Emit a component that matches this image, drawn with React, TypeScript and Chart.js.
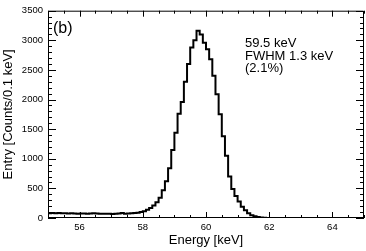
import { useEffect, useRef } from 'react';
import { Chart, registerables } from 'chart.js';

Chart.register(...registerables);

const BIN_START = 55;
const BIN_WIDTH = 0.1;
const X_MIN = 55;
const X_MAX = 65;
const Y_MIN = 0;
const Y_MAX = 3500;

// counts per 0.1 keV bin, 55.0 .. 65.0 keV
const counts = [
  85, 82, 84, 80, 83, 79, 81, 78, 80, 76,
  70, 74, 77, 72, 75, 79, 76, 71, 73, 70,
  72, 69, 71, 74, 83, 72, 78, 80, 85, 90,
  100, 115, 140, 170, 210, 265, 340, 470, 620, 840,
  1150, 1440, 1760, 1960, 2300, 2600, 2880, 3000, 3160, 3100,
  2960, 2850, 2680, 2400, 2090, 1750, 1380, 1050, 700, 490,
  370, 280, 190, 130, 80, 45, 28, 15, 8, 4,
  2, 1, 1, 0, 1, 0, 0, 0, 0, 0,
  0, 0, 0, 0, 0, 0, 0, 0, 0, 0,
  0, 0, 0, 0, 0, 0, 0, 0, 0, 0,
];

const xLabelTicks = [56, 58, 60, 62, 64];
const xMinorStep = 0.5;
const yMajorStep = 500;
const yMinorStep = 100;

const panelLabel = '(b)';
const infoLines = ['59.5 keV', 'FWHM 1.3 keV', '(2.1%)'];
const xTitle = 'Energy [keV]';
const yTitle = 'Entry [Counts/0.1 keV]';

const FONT = '"Liberation Sans", Arial, Helvetica, sans-serif';

export default function App() {
  const ref = useRef<HTMLCanvasElement | null>(null);

  useEffect(() => {
    document.body.style.margin = '0';
    const canvas = ref.current;
    if (!canvas) return;

    const points = counts.map((c, i) => ({ x: BIN_START + i * BIN_WIDTH, y: c }));
    points.push({ x: BIN_START + counts.length * BIN_WIDTH, y: counts[counts.length - 1] });

    const framePlugin = {
      id: 'rootFrame',
      afterDraw(chart: any) {
        const { ctx, chartArea, scales } = chart;
        const { left, right, top, bottom } = chartArea;
        const xs = scales.x;
        const ys = scales.y;
        ctx.save();
        ctx.strokeStyle = '#000';
        ctx.lineWidth = 1;
        ctx.beginPath();
        ctx.rect(left + 0.5, top + 0.5, right - left - 1, bottom - top - 1);
        ctx.stroke();

        // x ticks (bottom and top)
        const nX = Math.round((X_MAX - X_MIN) / xMinorStep);
        for (let i = 0; i <= nX; i++) {
          const v = X_MIN + i * xMinorStep;
          const major = xLabelTicks.some((t) => Math.abs(t - v) < 1e-6);
          const len = major ? 6 : 3;
          const px = Math.round(xs.getPixelForValue(v)) + 0.5;
          ctx.beginPath();
          ctx.moveTo(px, bottom);
          ctx.lineTo(px, bottom - len);
          ctx.moveTo(px, top);
          ctx.lineTo(px, top + len);
          ctx.stroke();
        }
        // y ticks (left and right)
        const nY = Math.round((Y_MAX - Y_MIN) / yMinorStep);
        for (let i = 0; i <= nY; i++) {
          const v = Y_MIN + i * yMinorStep;
          const major = Math.abs(v % yMajorStep) < 1e-6;
          const len = major ? 8 : 4;
          const py = Math.round(ys.getPixelForValue(v)) + 0.5;
          ctx.beginPath();
          ctx.moveTo(left, py);
          ctx.lineTo(left + len, py);
          ctx.moveTo(right, py);
          ctx.lineTo(right - len, py);
          ctx.stroke();
        }

        ctx.fillStyle = '#000';
        ctx.textAlign = 'left';
        ctx.textBaseline = 'alphabetic';
        ctx.font = `16px ${FONT}`;
        ctx.fillText(panelLabel, left + 5, top + 22);

        ctx.font = `13px ${FONT}`;
        infoLines.forEach((t, i) => {
          ctx.fillText(t, 245, 47 + i * 12.5);
        });
        ctx.restore();
      },
    };

    const chart = new Chart(canvas, {
      type: 'line',
      data: {
        datasets: [
          {
            data: points,
            stepped: 'after',
            borderColor: '#000',
            borderWidth: 2,
            pointRadius: 0,
            fill: false,
          },
        ],
      },
      options: {
        animation: false,
        responsive: false,
        devicePixelRatio: 1,
        layout: { padding: { top: 5, right: 2, left: 0, bottom: 0 } },
        plugins: { legend: { display: false }, tooltip: { enabled: false } },
        scales: {
          x: {
            type: 'linear',
            min: X_MIN,
            max: X_MAX,
            grid: { display: false, drawTicks: false },
            border: { display: false },
            ticks: {
              stepSize: 1,
              autoSkip: false,
              maxRotation: 0,
              padding: 4,
              color: '#000',
              font: { family: FONT, size: 9.5 },
              callback: (v: any) => (xLabelTicks.includes(Math.round(Number(v) * 1000) / 1000) ? String(v) : null),
            },
            title: {
              display: true,
              text: xTitle,
              color: '#000',
              font: { family: FONT, size: 13 },
              padding: { top: 0, bottom: 3 },
            },
            afterFit: (s: any) => {
              s.height = 33;
            },
          },
          y: {
            min: Y_MIN,
            max: Y_MAX,
            grid: { display: false, drawTicks: false },
            border: { display: false },
            ticks: {
              stepSize: yMajorStep,
              padding: 5,
              color: '#000',
              font: { family: FONT, size: 9.5 },
              callback: (v: any) => String(v),
            },
            title: {
              display: true,
              text: yTitle,
              color: '#000',
              font: { family: FONT, size: 13 },
              padding: { top: 1, bottom: 0 },
            },
            afterFit: (s: any) => {
              s.width = 48;
            },
          },
        },
      },
      plugins: [framePlugin],
    });

    return () => chart.destroy();
  }, []);

  return (
    <div style={{ width: 366, height: 251 }}>
      <canvas ref={ref} width={366} height={251} style={{ display: 'block' }} />
    </div>
  );
}
